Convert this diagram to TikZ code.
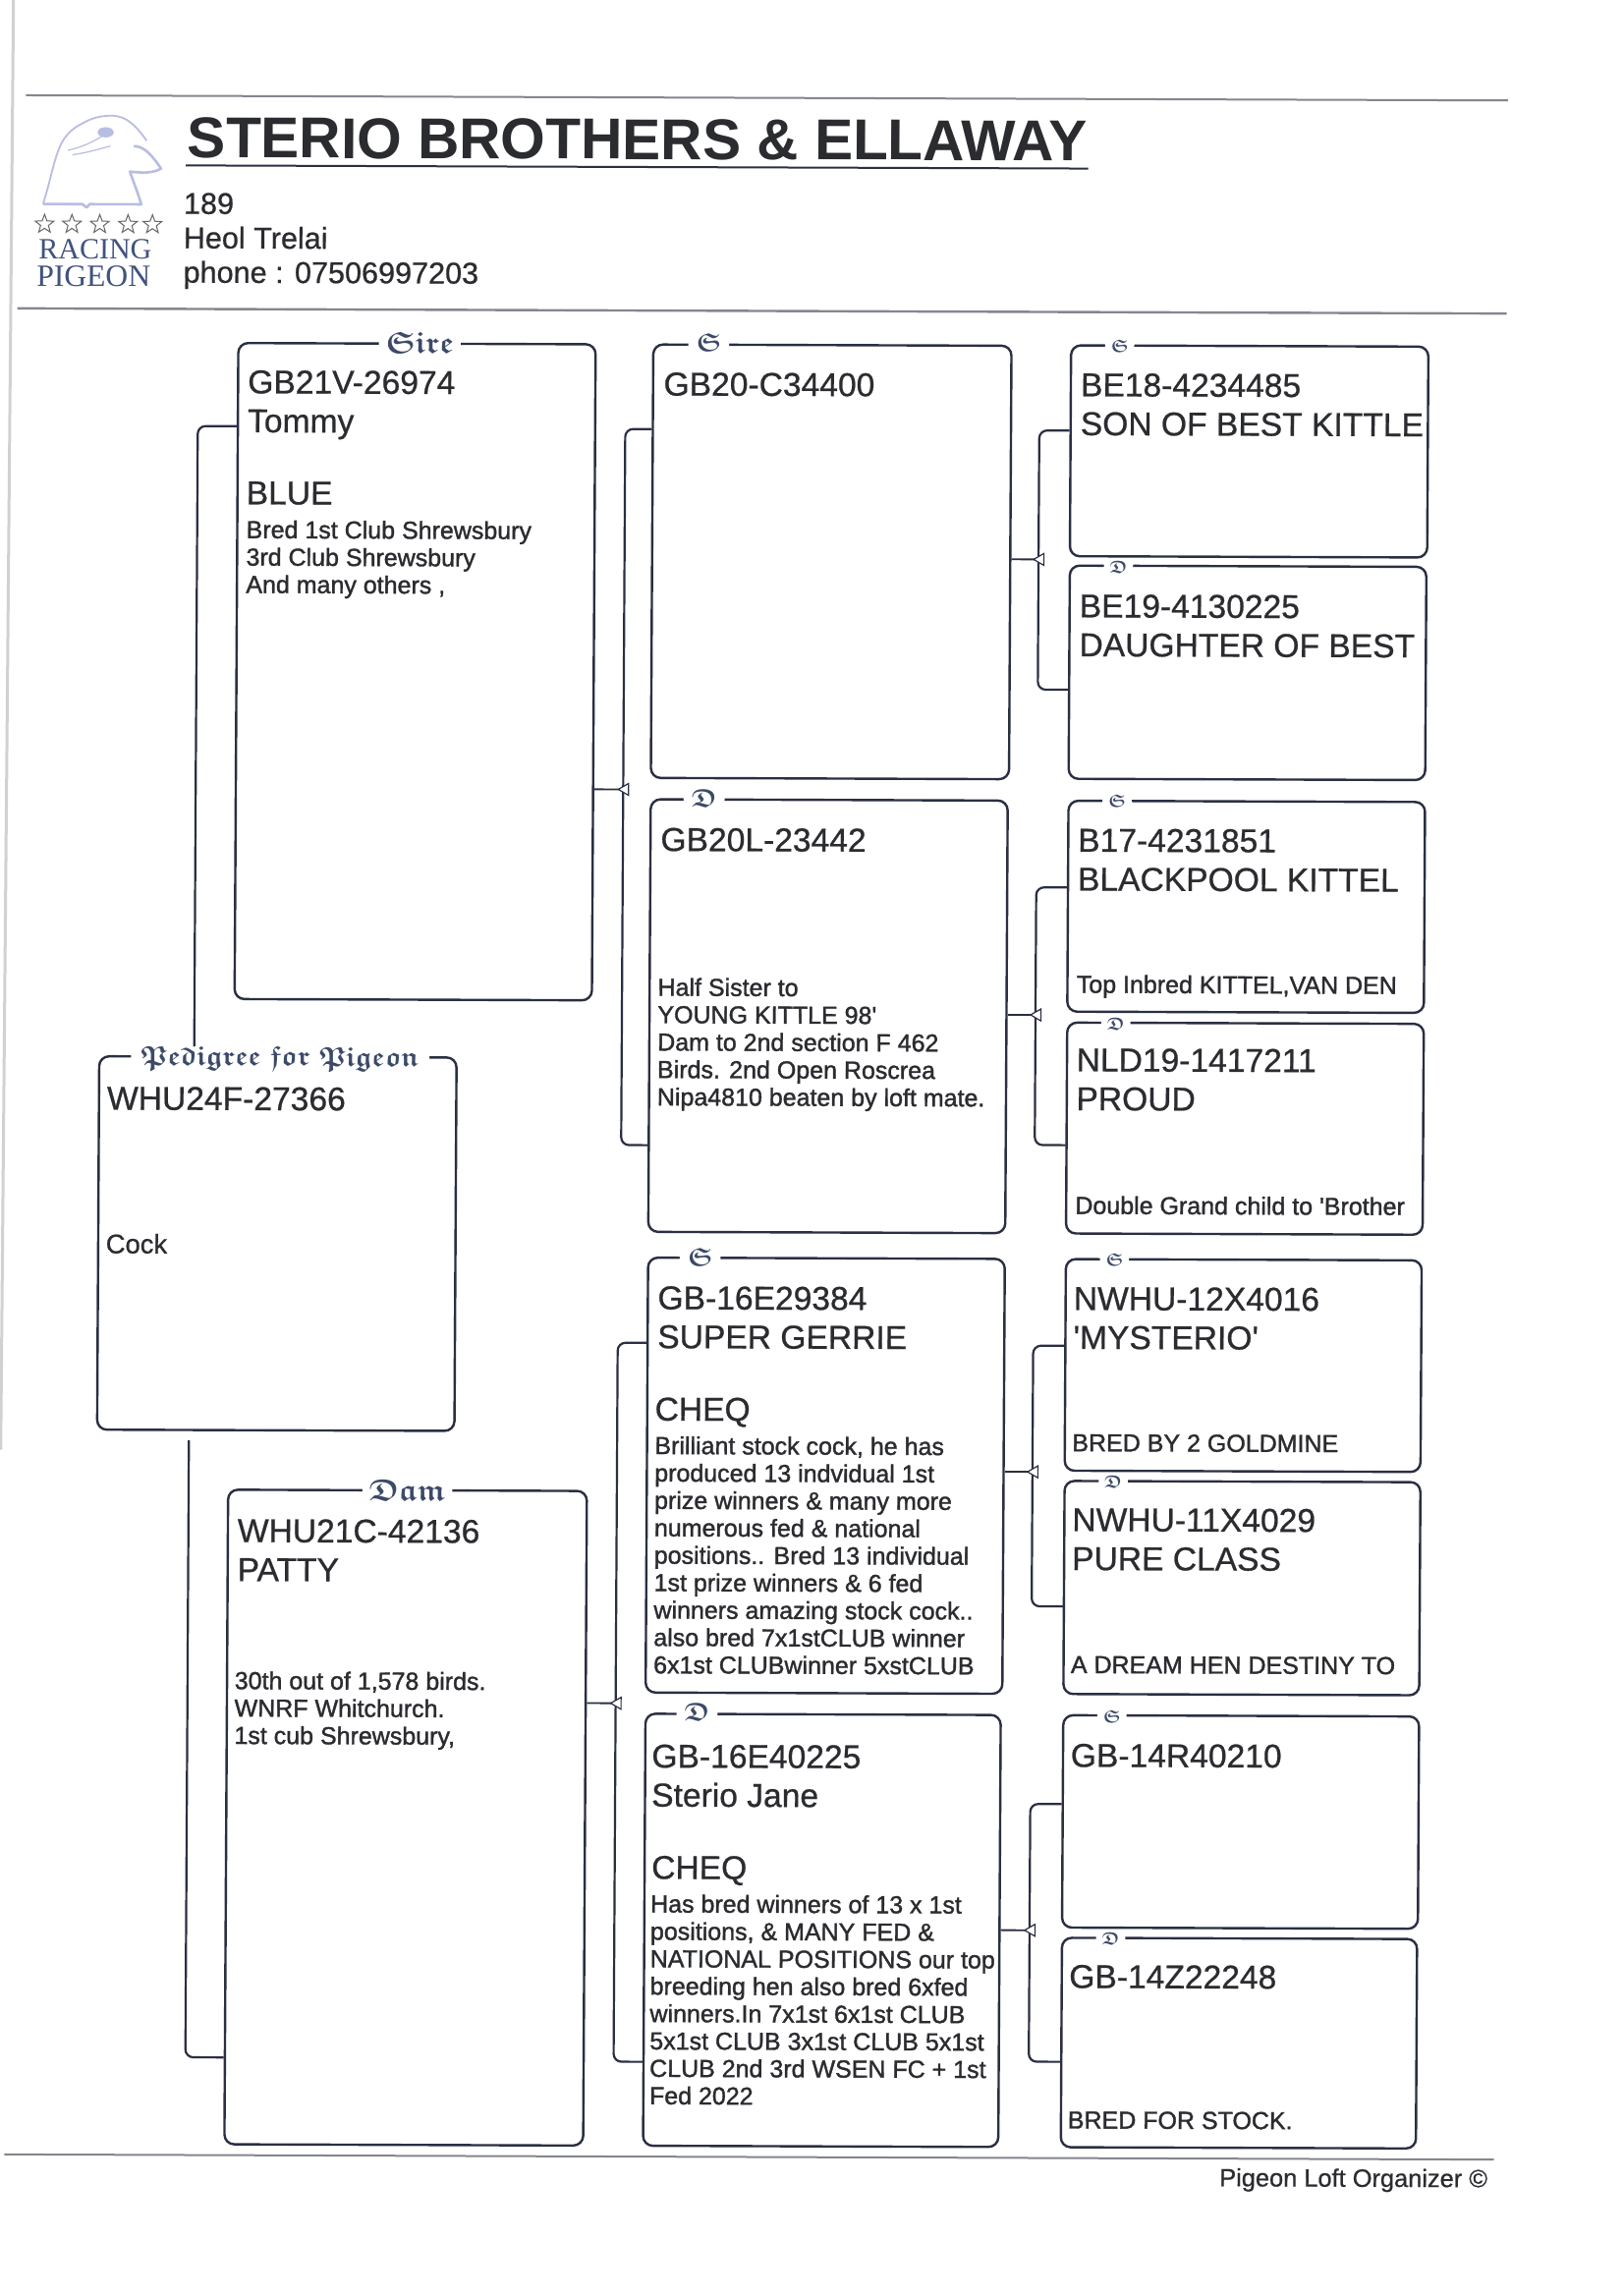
\documentclass[tikz,border=0pt]{standalone}
\usepackage{fontspec}
\usetikzlibrary{shapes.geometric}
\setmainfont{Liberation Sans}
\newfontfamily\serifq{Liberation Serif}
\newfontfamily\rawfont[FakeBold=0.7]{Liberation Sans}
\newfontfamily\detailfont[FakeBold=1.4]{Liberation Sans}
\font\frkA=eufb10 at 15.5pt
\font\frkB=eufb10 at 14pt
\font\frkM=eufb10 at 13pt
\font\frkC=eufb10 at 9pt
\definecolor{ink}{HTML}{2B2C30}
\definecolor{boxline}{HTML}{2A2F42}
\definecolor{legendcol}{HTML}{3C4A68}
\definecolor{rulegray}{HTML}{85868E}
\definecolor{logoblue}{HTML}{B8BDE2}
\definecolor{logotext}{HTML}{41527E}
\tikzset{
  x=0.7453pt, y=0.7453pt,
  birdbox/.style={draw=boxline, line width=1.2pt, rounded corners=5pt, inner sep=0pt, anchor=north west, minimum width=#1},
  conn/.style={draw=boxline, line width=1.1pt, rounded corners=4pt},
  junc/.style={regular polygon, regular polygon sides=3, shape border rotate=90, draw=boxline, fill=white, line width=0.6pt, minimum size=7pt, inner sep=0pt},
  mainT/.style={anchor=north west, inner sep=0pt, align=left, text=ink, font=\rawfont\fontsize{16.8}{19.8}\selectfont},
  detailT/.style={anchor=north west, inner sep=0pt, align=left, text=ink, font=\detailfont\fontsize{12.5}{13.95}\selectfont},
  legendB/.style={fill=white, inner sep=3.5pt, inner ysep=0pt, text=legendcol, font=\frkA},
  legendL/.style={fill=white, inner sep=5pt, inner ysep=0pt, text=legendcol, font=\frkB},
  legendM/.style={fill=white, inner sep=4pt, inner ysep=0pt, text=legendcol, font=\frkM},
  legendS/.style={fill=white, inner sep=3pt, inner ysep=0pt, text=legendcol, font=\frkC},
  hrule/.style={draw=rulegray, line width=1pt},
  logostar/.style={star, star points=5, star point ratio=2.4, draw=gray!80!black, line width=0.5pt, minimum size=10pt, inner sep=0pt},
}
\begin{document}
\begin{tikzpicture}
\useasboundingbox[fill=white] (0,0) rectangle (1109,-1568);
\draw[black!18, line width=1.5pt] (9.2,0) -- (0.5,-990);
\begin{scope}[cm={1,-0.0035,0.0057,1,(0,1.118pt)}, transform shape]
% header rules
\coordinate (r1a) at (18,-66.5); \coordinate (r1b) at (1030,-66.5);
\coordinate (r2a) at (13,-212); \coordinate (r2b) at (1030,-212);
\coordinate (r3a) at (11.4,-1472.5); \coordinate (r3b) at (1028.4,-1472.5);
\coordinate (r4a) at (127.6,-114); \coordinate (r4b) at (743.6,-114);
\draw[hrule] (r1a) -- (r1b);
\draw[hrule, line width=1.2pt] (r2a) -- (r2b);
\draw[hrule] (r3a) -- (r3b);
\draw[draw=boxline, line width=1pt] (r4a) -- (r4b);
% logo
\draw[logoblue, line width=0.9pt, line join=round]
  (30.2,-140.7) .. controls (35,-126) and (37,-111) .. (42.4,-99.4)
  .. controls (47,-91) and (52,-88) .. (58,-84.9)
  .. controls (65,-81) and (72,-80) .. (78.3,-80.3)
  .. controls (86,-81) and (92,-85) .. (100.7,-97.2);
\draw[logoblue, line width=1.3pt, line join=round]
  (92,-101) .. controls (98,-101) and (103,-105) .. (110.7,-116.3)
  .. controls (104,-120) and (96,-119) .. (89.4,-118.4)
  .. controls (92,-126) and (95,-133) .. (97.3,-140.7) -- (62,-140.7) -- (60,-143) -- (57,-140.7) -- (30.2,-140.7);
\fill[logoblue] (72.7,-91.6) ellipse (5.5 and 3.5);
\draw[logoblue, line width=0.6pt] (47,-104) .. controls (56,-102) and (65,-98) .. (72,-93);
\draw[logoblue, line width=0.6pt] (50,-107) .. controls (58,-106) and (65,-104) .. (76,-101);
\node[logostar] (st1) at (31.3,-154.5) {};
\node[logostar] (st2) at (50,-154.5) {};
\node[logostar] (st3) at (69,-154.5) {};
\node[logostar] (st4) at (88.3,-154.5) {};
\node[logostar] (st5) at (105,-154.5) {};
\node[inner sep=0pt, text=logotext, font=\serifq\fontsize{15}{15}\selectfont] (racing) at (66,-171.5) {RACING};
\node[inner sep=0pt, text=logotext, font=\serifq\fontsize{15.8}{15.8}\selectfont] (pigeon) at (65,-190) {PIGEON};
% header text
\node[mainT, font=\bfseries\fontsize{29.3}{30}\selectfont, text=ink] (title) at (128.5,-81) {STERIO BROTHERS \& ELLAWAY};
\node[mainT, font=\rawfont\fontsize{15.3}{17.5}\selectfont] (addr) at (126,-132.5) {189\\Heol Trelai\\phone : 07506997203};
\node[mainT, font=\rawfont\fontsize{12.7}{14}\selectfont] (foot) at (841,-1479) {Pigeon Loft Organizer ©};
% boxes
\node[birdbox=244*0.7453pt, minimum height=448*0.7453pt] (sire) at (163.3,-234.4) {};
\node[birdbox=244*0.7453pt, minimum height=255*0.7453pt] (ped) at (71.1,-721.8) {};
\node[birdbox=245*0.7453pt, minimum height=447*0.7453pt] (dam) at (160.8,-1017.5) {};
\node[birdbox=244.6*0.7453pt, minimum height=296*0.7453pt] (fs) at (446.7,-234.4) {};
\node[birdbox=243.8*0.7453pt, minimum height=295.4*0.7453pt] (fd) at (446.7,-545) {};
\node[birdbox=243.6*0.7453pt, minimum height=297*0.7453pt] (ms) at (446.7,-858) {};
\node[birdbox=242.6*0.7453pt, minimum height=295*0.7453pt] (md) at (446.7,-1169.5) {};
\node[birdbox=244*0.7453pt, minimum height=144*0.7453pt] (ss) at (732,-234) {};
\node[birdbox=243.5*0.7453pt, minimum height=145.6*0.7453pt] (sd) at (732,-384.4) {};
\node[birdbox=243.5*0.7453pt, minimum height=144*0.7453pt] (ds) at (732,-545) {};
\node[birdbox=243.5*0.7453pt, minimum height=144*0.7453pt] (dd) at (732,-696.5) {};
\node[birdbox=243*0.7453pt, minimum height=144.5*0.7453pt] (es) at (732,-858) {};
\node[birdbox=243*0.7453pt, minimum height=145.5*0.7453pt] (ed) at (732,-1009.5) {};
\node[birdbox=243*0.7453pt, minimum height=145*0.7453pt] (gs) at (732,-1169.5) {};
\node[birdbox=242.5*0.7453pt, minimum height=143*0.7453pt] (gd) at (732,-1321.5) {};
% legends
\node[legendL] (lped) at (195.5,-724) {Pedigree for Pigeon};
\node[legendB] (lsire) at (288,-234.5) {Sire};
\node[legendB] (ldam) at (284,-1018) {Dam};
\node[legendM] (l1) at (485.3,-234) {S};
\node[legendM] (l2) at (484,-545) {D};
\node[legendM] (l3) at (483,-858) {S};
\node[legendM] (l4) at (482.7,-1169) {D};
\node[legendS] (l5) at (766,-235) {S};
\node[legendS] (l6) at (766,-386) {D};
\node[legendS] (l7) at (766,-546) {S};
\node[legendS] (l8) at (766,-698) {D};
\node[legendS] (l9) at (766,-859) {S};
\node[legendS] (l10) at (766,-1011) {D};
\node[legendS] (l11) at (766,-1171) {S};
\node[legendS] (l12) at (766,-1323) {D};
% connectors
\begin{scope}[yshift=-1.118pt]
\coordinate (pu) at (136.7,-714);
\coordinate (pd) at (134.6,-983);
\draw[conn] (pu) |- (sire.west |- 0,-290.5);
\draw[conn] (pd) |- (dam.west |- 0,-1404.5);
\coordinate (j1) at (428.6,-537.5);
\coordinate (j2) at (427,-1161.5);
\coordinate (j3) at (711.3,-379.5);
\coordinate (j4) at (711,-690.5);
\coordinate (j5) at (710.7,-1002.5);
\coordinate (j6) at (710.5,-1315.5);
\draw[conn] (fs.west |- 0,-291.5) -| (j1) |- (fd.west |- 0,-780.5);
\draw[conn] (ms.west |- 0,-915.5) -| (j2) |- (md.west |- 0,-1406.5);
\draw[conn] (ss.west |- 0,-291.5) -| (j3) |- (sd.west |- 0,-468.5);
\draw[conn] (ds.west |- 0,-603.5) -| (j4) |- (dd.west |- 0,-779.5);
\draw[conn] (es.west |- 0,-916.5) -| (j5) |- (ed.west |- 0,-1094.5);
\draw[conn] (gs.west |- 0,-1229.5) -| (j6) |- (gd.west |- 0,-1405.5);
\draw[conn, line width=0.9pt] (sire.east |- j1) -- (j1);
\draw[conn, line width=0.9pt] (dam.east |- j2) -- (j2);
\draw[conn, line width=0.9pt] (fs.east |- j3) -- (j3);
\draw[conn, line width=0.9pt] (fd.east |- j4) -- (j4);
\draw[conn, line width=0.9pt] (ms.east |- j5) -- (j5);
\draw[conn, line width=0.9pt] (md.east |- j6) -- (j6);
\node[junc, xshift=1pt] (mj1) at (j1) {};
\node[junc, xshift=1pt] (mj2) at (j2) {};
\node[junc, xshift=1pt] (mj3) at (j3) {};
\node[junc, xshift=1pt] (mj4) at (j4) {};
\node[junc, xshift=1pt] (mj5) at (j5) {};
\node[junc, xshift=1pt] (mj6) at (j6) {};
\end{scope}
% texts
\node[mainT] (t1) at (77.2,-743) {WHU24F-27366};
\node[mainT, font=\rawfont\fontsize{13.7}{14}\selectfont] (t2) at (76.9,-843.5) {Cock};
\node[mainT] (t3) at (170.5,-253.5) {GB21V-26974\\Tommy};
\node[mainT] (t4) at (169.9,-329.5) {BLUE};
\node[detailT] (t5) at (170,-356) {Bred 1st Club Shrewsbury\\3rd Club Shrewsbury\\And many others ,};
\node[mainT] (t6) at (168,-1038) {WHU21C-42136\\PATTY};
\node[detailT] (t7) at (166.5,-1142) {30th out of 1,578 birds.\\WNRF Whitchurch.\\1st cub Shrewsbury,};
\node[mainT] (t8) at (454.5,-254) {GB20-C34400};
\node[mainT] (t9) at (454.2,-565) {GB20L-23442};
\node[detailT] (t10) at (452.8,-667.5) {Half Sister to\\YOUNG KITTLE 98'\\Dam to 2nd section F 462\\Birds. 2nd Open Roscrea\\Nipa4810 beaten by loft mate.};
\node[mainT] (t11) at (454,-878) {GB-16E29384\\SUPER GERRIE};
\node[mainT] (t12) at (452.5,-954) {CHEQ};
\node[detailT] (t13) at (452.5,-980.5) {Brilliant stock cock, he has\\produced 13 indvidual 1st\\prize winners \& many more\\numerous fed \& national\\positions.. Bred 13 individual\\1st prize winners \& 6 fed\\winners amazing stock cock..\\also bred 7x1stCLUB winner\\6x1st CLUBwinner 5xstCLUB};
\node[mainT] (t14) at (451.7,-1191) {GB-16E40225\\Sterio Jane};
\node[mainT] (t15) at (452,-1267) {CHEQ};
\node[detailT] (t16) at (451.4,-1293.5) {Has bred winners of 13 x 1st\\positions, \& MANY FED \&\\NATIONAL POSITIONS our top\\breeding hen also bred 6xfed\\winners.In 7x1st 6x1st CLUB\\5x1st CLUB 3x1st CLUB 5x1st\\CLUB 2nd 3rd WSEN FC + 1st\\Fed 2022};
\node[mainT] (t17) at (739.3,-253.5) {BE18-4234485\\SON OF BEST KITTLE};
\node[mainT] (t18) at (739.3,-404.5) {BE19-4130225\\DAUGHTER OF BEST};
\node[mainT] (t19) at (739.2,-564.5) {B17-4231851\\BLACKPOOL KITTEL};
\node[detailT] (t20) at (738.8,-664.5) {Top Inbred KITTEL,VAN DEN};
\node[mainT] (t21) at (739,-714.5) {NLD19-1417211\\PROUD};
\node[detailT] (t22) at (738.7,-815.5) {Double Grand child to 'Brother};
\node[mainT] (t23) at (738,-877.5) {NWHU-12X4016\\'MYSTERIO'};
\node[detailT] (t24) at (737.6,-978) {BRED BY 2 GOLDMINE};
\node[mainT] (t25) at (737.9,-1028.5) {NWHU-11X4029\\PURE CLASS};
\node[detailT] (t26) at (737.5,-1129.5) {A DREAM HEN DESTINY TO};
\node[mainT] (t27) at (737.8,-1189.5) {GB-14R40210};
\node[mainT] (t28) at (737.6,-1340.5) {GB-14Z22248};
\node[detailT] (t29) at (737.2,-1440.5) {BRED FOR STOCK.};
\end{scope}
\end{tikzpicture}
\end{document}
